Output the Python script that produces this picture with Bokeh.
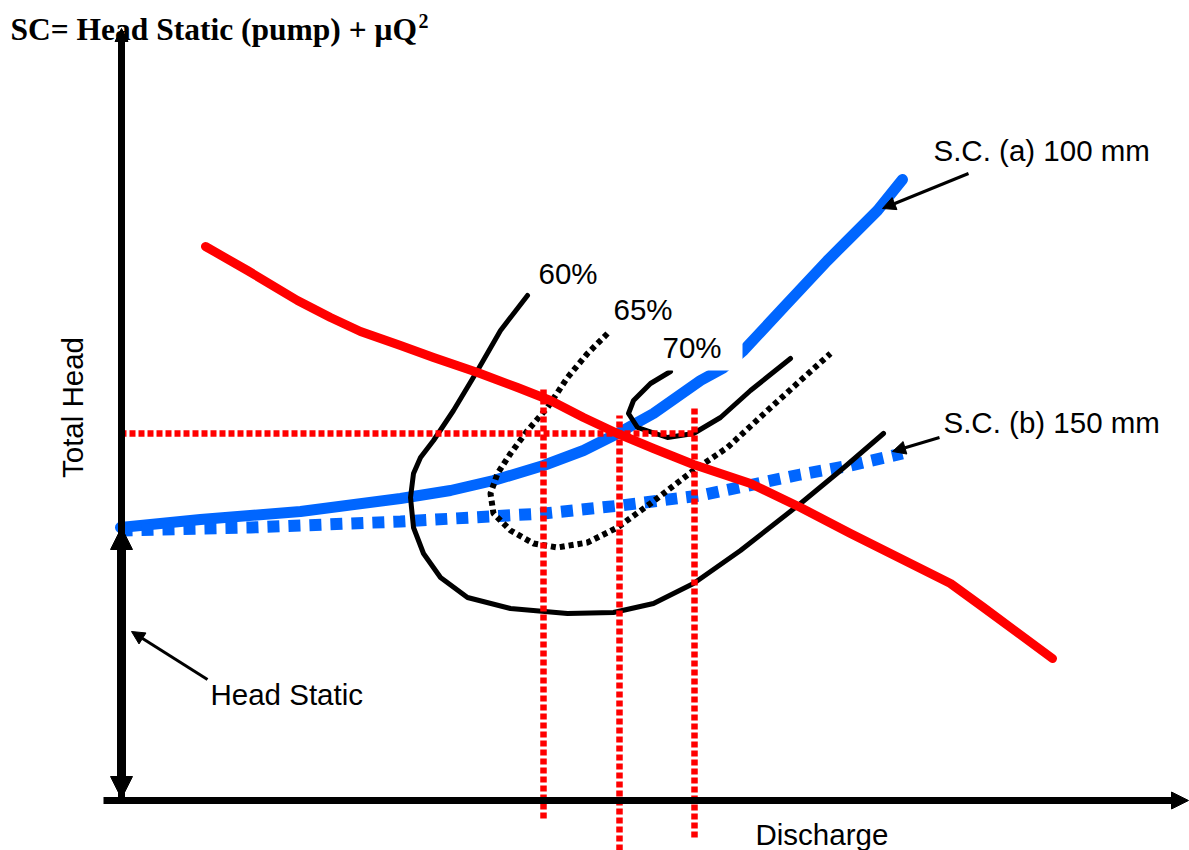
import math
from bokeh.plotting import figure
from bokeh.models import Range1d, Arrow, NormalHead
from bokeh.core.properties import value
from bokeh.embed import file_html
from bokeh.resources import INLINE

# ---- schematic data (Q = discharge, H = total head, arbitrary units, origin at axes corner) ----
pump_q = [85, 127, 177, 210, 240, 280, 313, 357, 397, 430, 463, 497, 533, 573, 630, 680, 730, 770, 830, 863, 932]
pump_h = [554, 530, 500, 483, 469, 455, 443, 428, 413, 400, 383, 367, 352, 336, 317, 293, 267, 247, 217, 193, 142]

sc_a_q = [0, 80, 180, 280, 330, 373, 423, 463, 497, 533, 580, 602, 623, 663, 707, 727, 757, 782]
sc_a_h = [273, 281, 289, 302, 310, 320, 335, 350, 367, 387, 420, 432, 450, 493, 540, 560, 590, 621]

sc_b_q = [0, 130, 280, 423, 500, 580, 680, 730, 782]
sc_b_h = [270, 273, 279, 287, 295, 305, 326, 335, 347]

eff60_q = [407, 380, 357, 333, 313, 300, 293, 290, 293, 303, 320, 347, 390, 447, 493, 533, 573, 620, 680, 720, 763]
eff60_h = [505, 470, 430, 390, 360, 343, 327, 303, 273, 247, 223, 203, 192, 187, 188, 197, 217, 250, 297, 330, 367]

eff65_q = [487, 467, 447, 427, 407, 390, 377, 370, 373, 390, 413, 437, 467, 497, 530, 573, 607, 647, 680, 710]
eff65_h = [467, 447, 423, 393, 370, 347, 327, 307, 287, 270, 257, 253, 258, 273, 297, 330, 353, 390, 420, 447]

eff70_q = [550, 530, 513, 508, 517, 547, 573, 600, 630, 670]
eff70_h = [429, 417, 400, 387, 373, 363, 367, 383, 410, 442]

static_head = 273
op_head = 367                 # head at the operating point (horizontal guide)
op_head_guide_end = 575
op_q = [423, 499, 574]        # discharges of the vertical guides
op_guide_top = [413, 385, 395]
op_guide_bottom = [-18, -50, -37]

eff_labels = ["60%", "65%", "70%"]
eff_label_q = [418, 493, 542]
eff_label_h = [527, 491, 453]

sc_labels = ["S.C. (a) 100 mm", "S.C. (b) 150 mm"]
sc_label_q = [813, 823]
sc_label_h = [650, 378]
sc_arrow_start_q = [848, 819]
sc_arrow_start_h = [627, 363]
sc_arrow_end_q = [762, 772]
sc_arrow_end_h = [592, 349]

BLUE = "#0066ff"
RED = "#ff0000"

p = figure(width=1189, height=850,
           x_range=Range1d(-120, 1069), y_range=Range1d(-50, 800),
           output_backend="svg", toolbar_location=None,
           x_axis_type=None, y_axis_type=None, min_border=0,
           outline_line_color=None, background_fill_color="white",
           border_fill_color="white")
p.grid.visible = False

# system curves
p.line(sc_a_q, sc_a_h, line_color=BLUE, line_width=11, line_cap="round", line_join="round")
p.line(sc_b_q, sc_b_h, line_color=BLUE, line_width=12, line_dash="12 9")

# efficiency contours
p.line(eff60_q, eff60_h, line_color="black", line_width=5, line_join="round", line_cap="round")
p.line(eff65_q, eff65_h, line_color="black", line_width=6, line_dash="5 4")
p.line(eff70_q, eff70_h, line_color="black", line_width=5, line_join="round", line_cap="round")

# pump curve
p.line(pump_q, pump_h, line_color=RED, line_width=9, line_cap="round", line_join="round")

# operating-point guides
p.line([0, op_head_guide_end], [op_head, op_head], line_color=RED, line_width=6.5, line_dash="6 3")
p.segment(x0=op_q, y0=op_guide_bottom, x1=op_q, y1=op_guide_top,
          line_color=RED, line_width=6.5, line_dash="6 3")

# white label box behind "70%"
lq, lh = eff_label_q[2], eff_label_h[2]
p.quad(left=[lq - 8], right=[lq + 80], bottom=[lh - 23], top=[lh + 20],
       fill_color="white", line_color=None)

LABEL_FONT = value("Liberation Sans")
p.text(x=eff_label_q, y=eff_label_h, text=eff_labels, text_font=LABEL_FONT,
       text_font_size="29.5px", text_color="black", text_align="left",
       text_baseline="alphabetic")
p.text(x=sc_label_q, y=sc_label_h, text=sc_labels, text_font=LABEL_FONT,
       text_font_size="29.5px", text_color="black", text_align="left",
       text_baseline="alphabetic")
p.text(x=[90], y=[106], text=["Head Static"], text_font=LABEL_FONT,
       text_font_size="29.5px", text_color="black", text_baseline="alphabetic")
p.text(x=[635], y=[-34], text=["Discharge"], text_font=LABEL_FONT,
       text_font_size="29.5px", text_color="black", text_baseline="alphabetic")
p.text(x=[-48], y=[393], text=["Total Head"], text_font=LABEL_FONT,
       text_font_size="29.5px", text_color="black", angle=math.pi / 2,
       text_align="center", text_baseline="middle")

# title
TITLE_FONT = value("Liberation Serif")
p.text(x=[-110], y=[771], text=["SC= Head Static (pump) + \u03bcQ"], text_font=TITLE_FONT,
       text_font_size="31.5px", text_font_style="bold", text_color="black",
       text_baseline="alphabetic")
p.text(x=[298], y=[780], text=["2"], text_font=TITLE_FONT,
       text_font_size="20px", text_font_style="bold", text_color="black",
       text_baseline="alphabetic")

def head(size):
    return NormalHead(size=size, fill_color="black", line_color="black", line_width=1)

# axes
p.add_layout(Arrow(end=head(13), x_start=1, y_start=0, x_end=1, y_end=772,
                   line_color="black", line_width=7))
p.add_layout(Arrow(end=head(17), x_start=-17, y_start=0, x_end=1068, y_end=0,
                   line_color="black", line_width=7))
# static head double arrow
p.add_layout(Arrow(start=head(22), end=head(22), x_start=1, y_start=2, x_end=1, y_end=static_head,
                   line_color="black", line_width=9))
# pointer arrows
p.add_layout(Arrow(end=head(13), x_start=87, y_start=121, x_end=11, y_end=169,
                   line_color="black", line_width=3))
for i in range(2):
    p.add_layout(Arrow(end=head(13), x_start=sc_arrow_start_q[i], y_start=sc_arrow_start_h[i],
                       x_end=sc_arrow_end_q[i], y_end=sc_arrow_end_h[i],
                       line_color="black", line_width=3))

open("out.html", "w").write(file_html(p, INLINE))
